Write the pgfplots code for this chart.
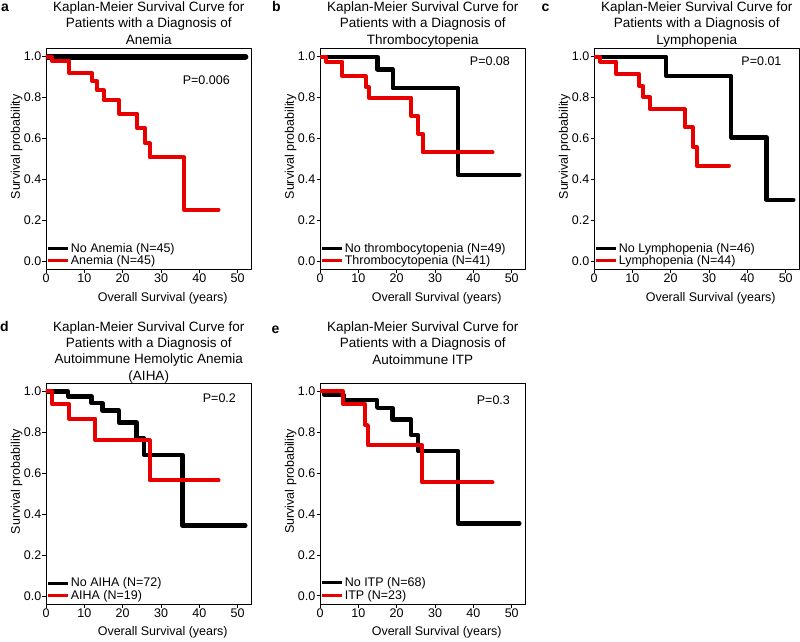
\documentclass[border=0pt]{standalone}
\usepackage{fontspec}
\setmainfont{Liberation Sans}
\usepackage{pgfplots}
\pgfplotsset{compat=1.18}
\definecolor{kmred}{RGB}{232,0,0}
\tikzset{
  pval/.style={anchor=base east, inner sep=0pt, font=\fontsize{12.5}{14}\selectfont},
  plabel/.style={anchor=base west, inner sep=0pt, font=\fontsize{14}{16}\selectfont\bfseries},
}
\pgfplotsset{
  km/.style={
    scale only axis, width=205.5pt, height=221pt,
    xmin=0, xmax=53.6, ymin=-0.04, ymax=1.04,
    xtick={0,10,20,30,40,50}, ytick={0,0.2,0.4,0.6,0.8,1},
    tick pos=left, tick align=outside, major tick length=3.5pt,
    every tick/.style={black, line width=0.8pt},
    axis line style={line width=0.8pt},
    tick label style={font=\fontsize{12.5}{14}\selectfont},
    /pgf/number format/assume math mode=true,
    yticklabel style={/pgf/number format/fixed, /pgf/number format/fixed zerofill,
      /pgf/number format/precision=1, inner xsep=1pt},
    xticklabel style={inner ysep=1pt},
    xlabel={Overall Survival (years)},
    xlabel style={at={(axis description cs:0.568,-0.1425)}, anchor=base,
      font=\fontsize{12.5}{14}\selectfont},
    ylabel={Survival probability},
    ylabel style={at={(axis description cs:-0.1426,0.555)}, anchor=center,
      font=\fontsize{12.5}{14}\selectfont},
    title style={align=center, anchor=base, inner sep=0pt,
      font=\fontsize{13.5}{16.3}\selectfont},
    legend style={at={(axis description cs:0.003,0.01)}, anchor=south west,
      draw=none, fill=none, inner sep=0pt, row sep=0pt,
      font=\fontsize{12.5}{13}\selectfont,
      nodes={inner sep=1pt}},
    legend cell align=left,
    legend image code/.code={\draw[#1, line width=3pt, line cap=butt] (0pt,0pt) -- (20pt,0pt);},
    const plot, line join=round,
  },
  kmblack/.style={black, line width=4.3pt, line cap=round},
  kmr/.style={kmred, line width=4pt, line cap=round},
}
\begin{document}
\begin{tikzpicture}
\path[use as bounding box] (0,0) rectangle (800pt,-641pt);
\node[plabel] at (1pt,-11.7pt) {a};
\node[plabel] at (272pt,-11.7pt) {b};
\node[plabel] at (541.5pt,-11.7pt) {c};
\node[plabel] at (0pt,-331pt) {d};
\node[plabel] at (271.5pt,-333pt) {e};

% a: anemia
\begin{axis}[km, at={(46pt,-269.5pt)}, anchor=south west,
  title={Kaplan-Meier Survival Curve for\\Patients with a Diagnosis of\\Anemia},
  title style={at={(axis description cs:0.5,0.992)}}]
\addplot[kmblack, line width=6pt] coordinates {(0,1) (52,1)};
\addlegendentry{No Anemia (N=45)}
\addplot[kmr] coordinates {(0,1) (1.6,0.978) (6,0.92) (12,0.88) (13.3,0.836) (15,0.79)
  (19,0.722) (23.8,0.65) (25.9,0.577) (27,0.508) (36,0.252) (45,0.252)};
\addlegendentry{Anemia (N=45)}
\node[pval] at (rel axis cs:0.895,0.838) {P=0.006};
\end{axis}

% b: thrombocytopenia
\begin{axis}[km, at={(320pt,-269.5pt)}, anchor=south west,
  title={Kaplan-Meier Survival Curve for\\Patients with a Diagnosis of\\Thrombocytopenia},
  title style={at={(axis description cs:0.5,0.992)}}]
\addplot[kmblack] coordinates {(0,1) (15,0.938) (19,0.846) (36,0.423) (52,0.423)};
\addlegendentry{No thrombocytopenia (N=49)}
\addplot[kmr] coordinates {(0,1) (1.6,0.976) (5.8,0.906) (11.9,0.852) (12.8,0.8)
  (23.8,0.711) (25.6,0.624) (26.8,0.532) (45,0.532)};
\addlegendentry{Thrombocytopenia (N=41)}
\node[pval] at (rel axis cs:0.925,0.922) {P=0.08};
\end{axis}

% c: lymphopenia
\begin{axis}[km, at={(594pt,-269.5pt)}, anchor=south west,
  title={Kaplan-Meier Survival Curve for\\Patients with a Diagnosis of\\Lymphopenia},
  title style={at={(axis description cs:0.5,0.992)}}]
\addplot[kmblack] coordinates {(0,1) (18.8,0.906) (35.8,0.605) (45,0.30) (52,0.30)};
\addlegendentry{No Lymphopenia (N=46)}
\addplot[kmr] coordinates {(0,1) (1.6,0.976) (5.8,0.914) (11.8,0.857) (12.8,0.803)
  (14.6,0.743) (23.7,0.654) (25.7,0.559) (26.8,0.467) (35.2,0.467)};
\addlegendentry{Lymphopenia (N=44)}
\node[pval] at (rel axis cs:0.913,0.922) {P=0.01};
\end{axis}

% d: AIHA
\begin{axis}[km, at={(46pt,-604.3pt)}, anchor=south west,
  title={Kaplan-Meier Survival Curve for\\Patients with a Diagnosis of\\Autoimmune Hemolytic Anemia\\(AIHA)},
  title style={at={(axis description cs:0.5,0.987)}}]
\addplot[kmblack] coordinates {(0,1) (5.8,0.976) (11.9,0.943) (14.7,0.907) (19,0.849)
  (23.6,0.772) (25.6,0.691) (35.6,0.345) (52,0.345)};
\addlegendentry{No AIHA (N=72)}
\addplot[kmr] coordinates {(0,1) (1.6,0.938) (6,0.867) (12.9,0.761) (27,0.566) (45,0.566)};
\addlegendentry{AIHA (N=19)}
\node[pval] at (rel axis cs:0.925,0.911) {P=0.2};
\end{axis}

% e: ITP
\begin{axis}[km, at={(320pt,-604pt)}, anchor=south west,
  title={Kaplan-Meier Survival Curve for\\Patients with a Diagnosis of\\Autoimmune ITP},
  title style={at={(axis description cs:0.5,1.058)}}]
\addplot[kmblack] coordinates {(0,1) (1.2,0.98) (6.2,0.956) (14.9,0.919) (18.9,0.862)
  (23.8,0.785) (25.6,0.707) (36,0.354) (52,0.354)};
\addlegendentry{No ITP (N=68)}
\addplot[kmr] coordinates {(0,1) (5.9,0.938) (11.7,0.834) (12.5,0.735) (26.6,0.554) (45,0.554)};
\addlegendentry{ITP (N=23)}
\node[pval] at (rel axis cs:0.925,0.905) {P=0.3};
\end{axis}
\end{tikzpicture}
\end{document}
